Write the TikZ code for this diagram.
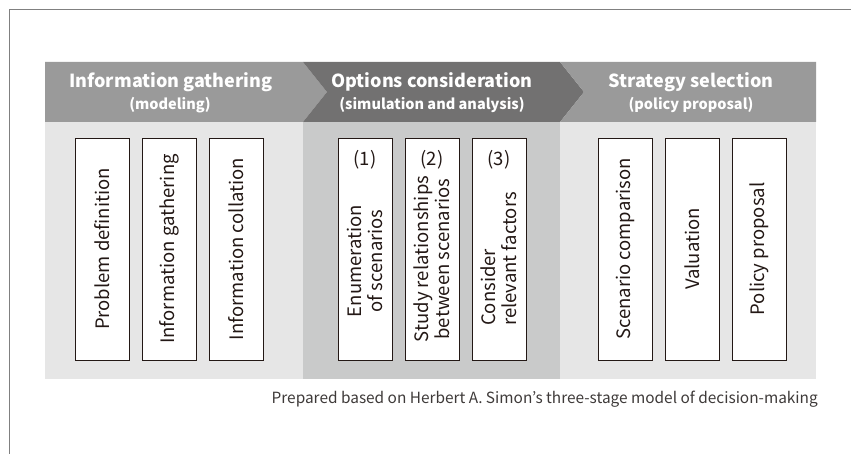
\documentclass[tikz,border=0pt]{standalone}
\usepackage{fontspec}
\setmainfont{Noto Sans CJK JP}
\definecolor{headgray}{HTML}{9A9A9A}
\definecolor{headdark}{HTML}{727171}
\definecolor{bodylight}{HTML}{E6E6E6}
\definecolor{bodymid}{HTML}{C9CACA}
\definecolor{framegray}{HTML}{808080}
\definecolor{ink}{HTML}{231815}
\definecolor{capgray}{HTML}{3E3A39}
\newcommand{\stagefont}{\fontsize{18.5}{21}\selectfont}
\begin{document}
\begin{tikzpicture}[x=1pt, y=-1pt,
  stepbox/.style={draw=ink, line width=0.8pt, fill=white, rotate=90, minimum width=222pt, minimum height=54pt, inner sep=0pt, text=ink, font=\stagefont},
  boxlabel/.style={rotate=90, text=ink, font=\stagefont, inner sep=0pt, align=center},
  numlabel/.style={text=ink, font=\stagefont, inner sep=0pt},
  headtitle/.style={anchor=base, text=white, font=\bfseries\fontsize{18}{20}\selectfont, inner sep=0pt},
  headsub/.style={anchor=base, text=white, font=\bfseries\fontsize{14.5}{16}\selectfont, inner sep=0pt}]
\useasboundingbox (0,0) rectangle (851,454);
% outer frame
\draw[framegray, line width=1pt] (851,10) -- (9,10) -- (9,454);
% stage backgrounds
\fill[bodylight] (45,122) rectangle (303,379);
\fill[bodymid] (303,122) rectangle (560,379);
\fill[bodylight] (560,122) rectangle (816,379);
% stage headers
\fill[headgray] (45,62) -- (303,62) -- (327,92) -- (303,122) -- (45,122) -- cycle;
\fill[headdark] (303,62) -- (560,62) -- (584,92) -- (560,122) -- (303,122) -- (327,92) -- cycle;
\fill[headgray] (560,62) -- (816,62) -- (816,122) -- (560,122) -- (584,92) -- cycle;
\node[headtitle] (h1) at (171,88) {Information gathering};
\node[headsub] (h1s) at (170,110) {(modeling)};
\node[headtitle] (h2) at (432,88) {Options consideration};
\node[headsub] (h2s) at (432,110) {(simulation and analysis)};
\node[headtitle] (h3) at (691,88) {Strategy selection};
\node[headsub] (h3s) at (691,110) {(policy proposal)};
% first stage
\node[stepbox] (b1) at (102,249) {Problem definition};
\node[stepbox] (b2) at (169,249) {Information gathering};
\node[stepbox] (b3) at (236,249) {Information collation};
% second stage
\node[stepbox] (b4) at (365,249) {};
\node[numlabel] (n4) at (365,160) {(1)};
\node[boxlabel] (b4t) at (365,261) {Enumeration\\of scenarios};
\node[stepbox] (b5) at (432,249) {};
\node[numlabel] (n5) at (432,160) {(2)};
\node[boxlabel] (b5t) at (432,259) {Study relationships\\between scenarios};
\node[stepbox] (b6) at (499,249) {};
\node[numlabel] (n6) at (499,160) {(3)};
\node[boxlabel, align=left] (b6t) at (499,259) {Consider\\relevant factors};
% third stage
\node[stepbox] (b7) at (625,249) {Scenario comparison};
\node[stepbox] (b8) at (692,249) {Valuation};
\node[stepbox] (b9) at (759,249) {Policy proposal};
% source note
\node[anchor=base east, text=capgray, font=\fontsize{15.4}{18}\selectfont, inner sep=0pt] (src) at (818,403) {Prepared based on Herbert A. Simon’s three-stage model of decision-making};
\end{tikzpicture}
\end{document}
